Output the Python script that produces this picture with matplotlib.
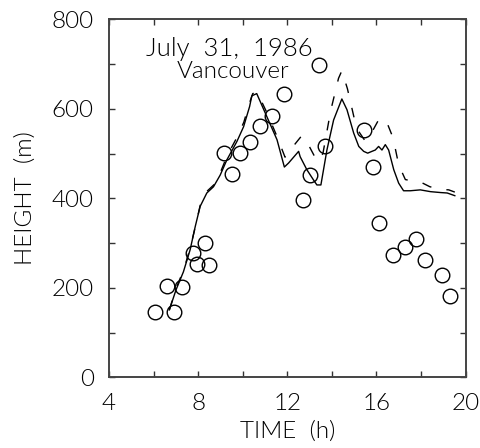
import matplotlib
matplotlib.use("Agg")
import matplotlib.pyplot as plt
from matplotlib.ticker import MultipleLocator

# observed mixed-layer heights (circles)
obs_time = [6.07, 6.93, 6.61, 7.27, 7.75, 8.33, 7.96, 8.51, 9.17, 9.50,
            9.90, 10.31, 10.76, 11.33, 11.84, 13.43, 13.71, 13.02, 12.69,
            15.45, 15.85, 16.10, 16.75, 17.27, 17.80, 18.20, 18.95, 19.29]
obs_height = [146, 146, 205, 201, 278, 300, 254, 251, 502, 454,
              502, 525, 562, 583, 632, 697, 517, 453, 397,
              553, 471, 345, 273, 292, 309, 263, 228, 182]

# model run (solid)
model_time = [6.71, 7.01, 7.34, 7.64, 7.87, 8.09, 8.39, 8.69, 8.99, 9.29,
              9.74, 10.04, 10.31, 10.41, 10.63, 11.08, 11.54, 11.87, 12.06,
              12.51, 12.58, 12.88, 13.18, 13.33, 13.51, 13.78, 14.08, 14.45,
              14.68, 14.98, 15.21, 15.43, 15.61, 15.80, 15.95, 16.10, 16.25,
              16.40, 16.55, 16.78, 17.00, 17.22, 17.52, 17.97, 18.43, 18.88,
              19.18, 19.52]
model_height = [151, 196, 236, 285, 337, 382, 412, 426, 452, 486,
                527, 560, 605, 629, 634, 583, 531, 470, 479,
                505, 493, 464, 441, 430, 430, 508, 575, 622,
                598, 546, 516, 505, 501, 505, 508, 516, 508,
                520, 508, 464, 434, 417, 417, 419, 415, 413,
                412, 406]

# second model run (dashed)
model2_time = [6.71, 7.00, 7.35, 7.65, 7.90, 8.10, 8.40, 8.70, 9.00, 9.30,
               9.75, 10.05, 10.30, 10.45, 10.65, 11.10, 11.55, 11.90, 12.10,
               12.65, 13.00, 13.35, 13.60, 13.95, 14.30, 14.45, 14.70, 15.00,
               15.20, 15.50, 15.80, 16.15, 16.50, 16.75, 17.00, 17.30, 17.60,
               18.00, 18.40, 18.90, 19.25, 19.52]
model2_height = [151, 198, 240, 290, 342, 386, 416, 430, 458, 495,
                 537, 570, 612, 634, 637, 590, 537, 492, 506,
                 540, 515, 482, 500, 596, 668, 685, 645, 580,
                 550, 528, 548, 580, 566, 535, 475, 442, 439,
                 436, 426, 420, 419, 414]

plt.rcParams['font.family'] = ['Lato', 'DejaVu Sans']
plt.rcParams['font.weight'] = 300
plt.rcParams['axes.labelweight'] = 300
plt.rcParams['font.size'] = 17.5

fig = plt.figure(figsize=(4.81, 4.48), dpi=100)
ax = fig.add_axes([0.2266, 0.1574, 0.7412, 0.7996])

ax.plot(model_time, model_height, color='black', linewidth=1.0)
dashed, = ax.plot(model2_time, model2_height, color='black', linewidth=1.0)
dashed.set_dashes((7, 11))
ax.plot(obs_time, obs_height, linestyle='none', marker='o', markersize=10.5,
        markerfacecolor='none', markeredgecolor='black', markeredgewidth=1.0)

ax.set_xlim(4, 20)
ax.set_ylim(0, 800)
ax.xaxis.set_major_locator(MultipleLocator(4))
ax.xaxis.set_minor_locator(MultipleLocator(2))
ax.yaxis.set_major_locator(MultipleLocator(200))
ax.yaxis.set_minor_locator(MultipleLocator(100))
ax.tick_params(which='both', direction='in', top=True, right=True,
               length=4.5, width=1.0, color='#333333')
ax.tick_params(axis='x', which='major', pad=11)
ax.tick_params(axis='y', which='major', pad=11)
for s in ax.spines.values():
    s.set_linewidth(1.4)
    s.set_color('#444444')

ax.set_xlabel('TIME  (h)', labelpad=5)
ax.set_ylabel('HEIGHT  (m)', labelpad=11)

ax.text(0.337, 0.918, 'July  31,  1986', transform=ax.transAxes, ha='center', va='center',
        fontsize=18.5)
ax.text(0.348, 0.853, 'Vancouver', transform=ax.transAxes, ha='center', va='center')

fig.savefig('out.png', dpi=100)
